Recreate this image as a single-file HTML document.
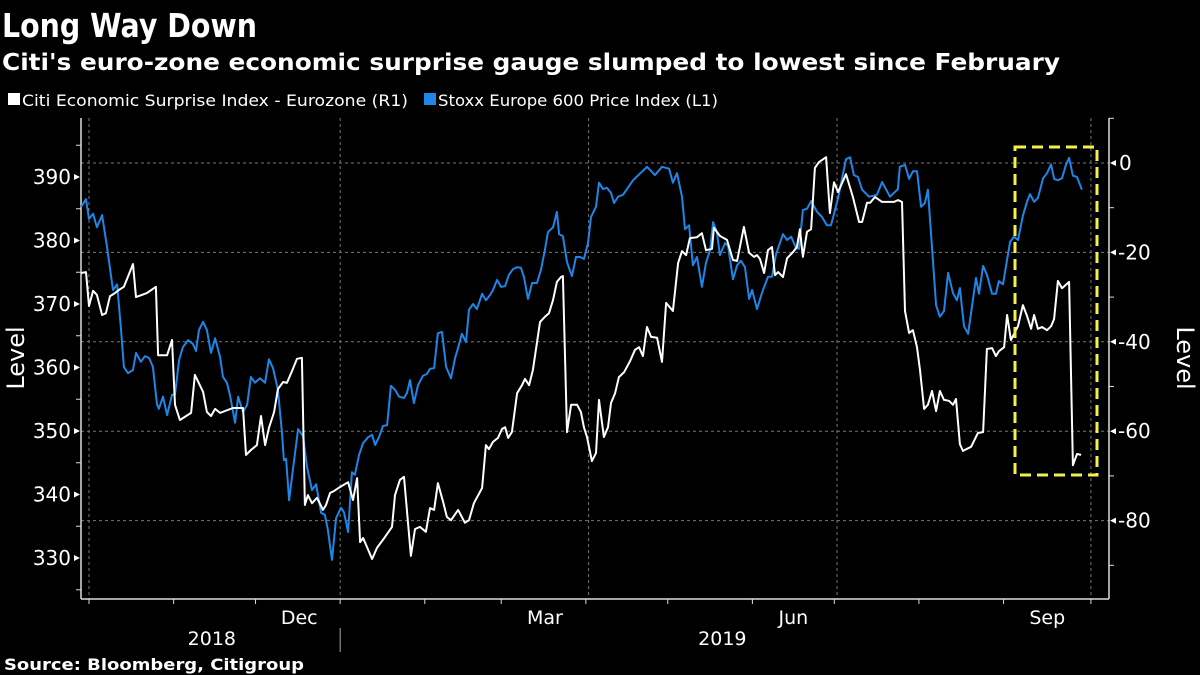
<!DOCTYPE html>
<html><head><meta charset="utf-8"><style>
html,body{margin:0;padding:0;background:#000;}
svg{display:block;}
text{font-family:"DejaVu Sans","Liberation Sans",sans-serif;fill:#fff;}
</style></head><body>
<svg id="chart" width="1200" height="675" viewBox="0 0 1200 675" xmlns="http://www.w3.org/2000/svg">
<rect width="1200" height="675" fill="#000"/>
<text x="2" y="37" font-size="33" font-weight="bold" textLength="255" lengthAdjust="spacingAndGlyphs">Long Way Down</text>
<text x="2" y="70" font-size="23" font-weight="bold" textLength="1058" lengthAdjust="spacingAndGlyphs">Citi's euro-zone economic surprise gauge slumped to lowest since February</text>
<g>
<g>
<rect x="8" y="93" width="12" height="12" fill="#fff"/>
<text x="22" y="106" font-size="16" textLength="386" lengthAdjust="spacingAndGlyphs">Citi Economic Surprise Index - Eurozone  (R1)</text>
</g>
<g>
<rect x="424" y="93" width="12" height="12" fill="#1e86e6"/>
<text x="438" y="106" font-size="16" textLength="280" lengthAdjust="spacingAndGlyphs">Stoxx Europe 600 Price Index (L1)</text>
</g>
</g>
<g id="grid"></g>
<g id="axes"></g>
<g id="series"></g>
<rect x="1015" y="147" width="82" height="328" fill="none" stroke="#f4f04a" stroke-width="3" stroke-dasharray="11 6"/>
<text x="4" y="670" font-size="16" font-weight="bold" textLength="300" lengthAdjust="spacingAndGlyphs">Source: Bloomberg, Citigroup</text>
</svg>
<script>
const NS="http://www.w3.org/2000/svg";
// ---- data ----
const stoxxDays=[-2.9,-1.1,0,1.5,2.9,4.8,6.6,8.8,10.3,11.7,12.8,14.3,16.1,17.2,19.0,20.5,22.0,23.4,24.9,25.6,27.1,28.6,30.4,31.5,33.0,34.4,36.3,38.1,39.2,40.3,41.8,43.2,44.7,46.2,48.0,49.1,50.5,51.6,53.5,54.6,56.4,57.9,59.3,60.8,62.6,64.5,65.9,67.4,69.2,70.7,71.4,72.2,73.3,74.7,76.6,78.4,79.9,81.7,83.2,85.0,86.4,87.5,89.0,90.5,92.3,93.4,94.9,96.3,97.4,98.9,100.4,102.2,103.7,104.8,106.2,107.7,109.2,110.6,112.1,113.6,115.4,116.5,117.6,119.0,120.5,122.3,123.8,124.9,126.4,127.8,129.3,130.8,132.6,134.1,135.2,136.6,138.1,139.2,140.7,142.1,144.0,145.4,146.9,148.0,149.5,150.9,152.4,153.8,155.3,156.8,158.2,159.3,160.8,162.3,164.1,165.6,167.0,168.1,170.0,171.4,172.2,173.6,175.1,176.9,178.4,179.9,181.3,182.8,183.9,185.7,186.8,188.3,189.7,191.2,192.3,193.8,195.6,199.3,204.4,207.3,209.9,212.5,213.9,215.4,217.2,218.3,219.8,221.2,222.7,224.5,226.0,227.5,228.6,230.0,231.1,233.0,234.1,235.9,237.4,238.8,240.3,241.8,242.9,244.7,246.5,248.7,250.2,251.7,254.2,255.7,257.2,259.0,260.1,261.5,263.0,264.5,266.7,268.5,270.3,271.8,274.4,277.3,278.8,280.2,281.7,283.2,285.7,288.6,290.5,293.4,296.3,297.0,298.9,300.4,301.8,303.3,304.8,306.2,307.3,310.3,311.7,313.2,314.7,316.5,317.9,319.0,320.5,322.0,323.4,324.9,326.0,327.5,328.9,330.8,332.2,333.3,334.8,337.4,338.8,340.3,342.1,343.6,344.7,346.2,347.6,349.5,350.9,352.4,353.5,354.9,356.4,357.9,359.0,360.4,361.9,363.7];
const stoxxValues=[385.3,386.5,383.4,384.2,382.1,384.0,379.0,372.2,373.1,366.2,360.1,359.1,359.6,362.3,360.9,361.8,361.5,360.1,354.2,353.5,355.4,352.5,355.7,355.7,361.2,363.2,364.3,363.7,362.6,365.9,367.2,365.9,362.3,364.6,361.7,358.5,357.6,355.7,351.3,355.4,353.0,354.1,358.5,357.6,358.3,357.6,361.3,359.9,356.5,349.7,345.4,345.6,339.1,343.9,350.3,349.2,344.3,340.7,341.6,337.1,336.8,334.4,329.7,336.3,337.9,337.2,334.1,343.5,343.1,346.2,348.1,349.0,349.4,347.8,349.0,350.8,350.9,357.1,356.5,355.4,355.2,356.0,358.0,354.4,357.2,358.7,359.0,359.8,359.9,365.4,365.6,360.1,358.3,361.5,363.1,365.3,364.0,369.1,370.0,369.2,371.6,370.6,371.4,372.2,373.8,372.7,372.8,374.6,375.5,375.8,375.7,374.3,370.8,373.3,373.3,375.5,378.5,381.3,382.1,384.5,381.0,380.7,376.6,374.4,377.4,377.4,377.1,379.6,383.7,385.3,389.1,388.1,388.3,387.5,385.9,386.9,387.2,389.5,391.6,390.3,391.6,391.3,389.1,390.6,386.9,381.8,382.4,376.1,377.4,372.7,376.5,378.5,382.9,381.3,377.7,379.6,379.1,373.9,376.1,376.8,375.8,370.8,372.2,369.2,371.7,374.3,374.3,377.9,381.0,380.1,380.6,378.8,378.7,384.8,385.0,386.2,384.5,383.7,382.4,382.4,386.7,392.8,393.1,390.3,390.0,388.0,386.9,387.2,389.2,386.9,388.1,391.6,391.9,389.7,390.9,390.9,385.3,385.9,388.0,369.8,368.0,368.9,374.9,371.7,370.6,372.5,366.5,365.3,369.5,374.1,371.6,376.0,374.6,371.6,371.6,373.6,373.1,379.8,380.6,380.1,383.9,386.1,387.3,386.1,386.7,389.8,390.6,392.0,389.7,389.5,389.8,392.0,393.0,390.2,390.0,388.0];
const citiDays=[-2.9,-1.1,0,1.5,2.9,4.8,6.2,7.7,9.5,11.0,12.8,16.1,17.2,21.2,24.5,25.3,28.6,30.4,31.5,33.3,37.4,38.8,41.8,43.2,44.7,46.2,48.0,52.7,56.4,57.5,59.3,61.5,63.0,64.5,65.9,67.8,69.2,71.1,72.5,74.4,76.2,78.0,79.1,80.2,81.7,83.5,85.7,86.8,88.3,89.7,91.9,94.9,96.7,98.2,99.3,100.4,103.7,105.5,108.4,111.0,112.1,113.9,115.4,117.9,119.4,121.2,123.4,124.9,126.4,127.8,129.7,131.1,132.6,135.2,137.7,139.2,141.0,144.0,145.4,146.5,148.0,149.8,151.3,152.4,153.5,154.9,156.8,158.6,159.7,161.2,162.6,165.2,167.0,168.5,170.0,171.4,172.9,173.6,175.1,176.6,178.8,180.2,181.3,182.4,184.2,185.7,186.8,188.6,190.1,191.2,192.7,194.1,196.0,198.2,200.0,201.5,202.9,204.4,205.9,208.1,209.9,211.4,213.9,215.8,217.2,218.7,220.1,222.7,224.5,226.0,228.2,228.9,231.1,233.7,235.9,237.4,239.9,241.8,243.6,244.7,245.8,247.3,248.7,250.2,251.3,252.4,254.2,255.7,257.9,259.3,260.4,261.5,263.0,264.5,265.9,267.4,270.0,271.4,272.9,274.4,277.3,279.8,282.1,283.2,285.0,286.1,287.9,290.5,294.9,296.3,297.8,298.9,300.4,301.8,303.3,304.4,305.9,307.3,308.8,310.3,311.7,313.2,315.0,316.5,317.6,319.0,320.1,323.1,325.6,327.5,328.9,330.8,332.2,333.3,335.2,336.3,337.7,340.3,342.1,343.6,345.1,346.2,347.6,349.1,350.9,352.4,353.5,354.9,356.4,359.0,360.4,361.9,363.4];
const citiValues=[-24.6,-24.4,-32.0,-28.6,-29.5,-34.0,-33.6,-29.8,-29.1,-28.4,-27.7,-22.6,-30.0,-29.1,-27.7,-43.0,-43.0,-39.6,-54.1,-57.5,-55.9,-47.4,-51.2,-55.7,-56.6,-55.0,-55.9,-54.8,-54.8,-65.3,-64.2,-63.1,-56.6,-63.1,-59.3,-55.7,-50.6,-49.0,-49.2,-46.5,-43.8,-43.6,-76.5,-74.3,-76.1,-74.9,-77.6,-76.5,-73.8,-73.4,-72.5,-71.4,-75.4,-70.5,-84.8,-83.9,-88.6,-86.1,-83.7,-81.4,-74.3,-70.9,-70.2,-87.9,-81.9,-81.4,-82.5,-77.2,-77.6,-71.6,-75.8,-79.2,-79.9,-77.6,-80.5,-79.9,-76.1,-72.7,-63.1,-64.0,-62.4,-61.5,-59.5,-59.1,-61.5,-60.2,-51.5,-49.7,-48.3,-49.7,-46.3,-35.6,-34.4,-33.6,-30.6,-26.6,-25.5,-25.3,-60.2,-54.1,-54.1,-55.7,-59.1,-61.3,-66.7,-64.9,-53.0,-61.3,-59.1,-53.7,-51.5,-47.9,-46.8,-44.3,-41.8,-41.2,-43.2,-36.7,-38.9,-39.1,-44.5,-31.3,-33.1,-22.4,-19.7,-20.6,-16.8,-16.6,-15.7,-19.5,-19.2,-14.5,-16.3,-17.2,-21.7,-21.9,-14.3,-20.1,-21.0,-20.6,-21.5,-24.6,-19.5,-18.8,-25.1,-24.4,-25.5,-21.3,-19.9,-18.8,-14.8,-21.0,-15.4,-14.8,-1.1,0.2,1.3,-11.2,-4.3,-6.5,-2.5,-7.6,-13.2,-13.2,-8.9,-8.9,-7.6,-8.7,-8.7,-8.3,-8.7,-33.1,-38.0,-37.4,-41.2,-46.3,-55.0,-54.1,-51.0,-55.5,-51.0,-53.0,-53.2,-54.1,-52.8,-62.9,-64.4,-63.5,-60.4,-60.2,-41.6,-41.4,-43.2,-42.1,-41.2,-34.0,-39.6,-36.5,-31.8,-34.2,-37.1,-34.0,-37.1,-36.7,-37.4,-36.5,-34.9,-26.4,-28.0,-26.6,-67.6,-65.1,-65.3];
const leftTicks=[330,340,350,360,370,380,390];
const leftMinor=[325,335,345,355,365,375,385,395];
const rightTicks=[0,-20,-40,-60,-80];
const rightMinor=[10,-10,-30,-50,-70,-90];
const monthTicks=[0,31,61,92,123,151,182,212,243,273,304,335,367];
const quarterLines=[0,92,183,274,367];
const monthLabels=["Dec","Mar","Jun","Sep"];
const monthLabelDays=[77,167,258,351];
const yearLabels=["2018","2019"];
const yearLabelDays=[45,232];
// ---- scales ----
const X0=81,X1=1109,YB=599,YT=118;
const xS=d=>89+d*2.73;
const yL=v=>177+(390-v)*6.35;
const yR=v=>163-v*4.47;
function mk(tag,attrs,parent){const e=document.createElementNS(NS,tag);for(const k in attrs)e.setAttribute(k,attrs[k]);parent.appendChild(e);return e;}
const grid=document.getElementById('grid'),axes=document.getElementById('axes'),series=document.getElementById('series');
rightTicks.forEach(v=>{const l=mk('line',{x1:X0,x2:X1,y1:yR(v),y2:yR(v),stroke:'#777','stroke-width':1,'stroke-dasharray':'3 3'},grid);

});
quarterLines.forEach(d=>{const l=mk('line',{x1:xS(d),x2:xS(d),y1:YT,y2:YB,stroke:'#777','stroke-width':1,'stroke-dasharray':'3 3'},grid);

});
// axes lines
let a=mk('line',{x1:X0,x2:X0,y1:YT,y2:YB,stroke:'#ddd','stroke-width':1.5},axes);


a=mk('line',{x1:X1,x2:X1,y1:YT,y2:YB,stroke:'#ddd','stroke-width':1.5},axes);


a=mk('line',{x1:X0,x2:X1,y1:YB,y2:YB,stroke:'#ddd','stroke-width':1.5},axes);


leftTicks.forEach(v=>{const y=yL(v);
const p=mk('path',{d:`M${X0-1},${y} l-6,-3 v6 z`,fill:'#fff'},axes);


const t=mk('text',{x:X0-10,y:y+7,'font-size':20,'text-anchor':'end','font-family':'Liberation Sans, sans-serif'},axes);t.textContent=v;

});
leftMinor.forEach(v=>{const l=mk('line',{x1:X0-5,x2:X0,y1:yL(v),y2:yL(v),stroke:'#ddd'},axes);

});
rightTicks.forEach(v=>{const y=yR(v);
const p=mk('path',{d:`M${X1+1},${y} l6,-3 v6 z`,fill:'#fff'},axes);


const t=mk('text',{x:X1+(v<0?9:10),y:y+7,'font-size':20,'font-family':'Liberation Sans, sans-serif'},axes);t.textContent=v<0?'-'+Math.abs(v):v;

});
rightMinor.forEach(v=>{const y=yR(v);if(y<YT||y>YB)return;const l=mk('line',{x1:X1,x2:X1+5,y1:y,y2:y,stroke:'#ddd'},axes);

});
monthTicks.forEach(d=>{const l=mk('line',{x1:xS(d),x2:xS(d),y1:YB,y2:YB+5,stroke:'#ddd'},axes);

});
monthLabels.forEach((m,i)=>{const t=mk('text',{x:xS(monthLabelDays[i]),y:624,'font-size':19,'text-anchor':'middle','font-family':'Liberation Sans, sans-serif'},axes);t.textContent=m;

});
yearLabels.forEach((m,i)=>{const t=mk('text',{x:xS(yearLabelDays[i]),y:645,'font-size':19,'text-anchor':'middle','font-family':'Liberation Sans, sans-serif'},axes);t.textContent=m;

});
a=mk('line',{x1:xS(92),x2:xS(92),y1:628,y2:652,stroke:'#aaa'},axes);


let t=mk('text',{x:0,y:0,'font-size':24,'text-anchor':'middle','font-family':'Liberation Sans, sans-serif',transform:'translate(24,358) rotate(-90)'},axes);t.textContent='Level';


t=mk('text',{x:0,y:0,'font-size':24,'text-anchor':'middle','font-family':'Liberation Sans, sans-serif',transform:'translate(1177,358) rotate(90)'},axes);t.textContent='Level';


// series
const sp=mk('polyline',{points:stoxxDays.map((d,i)=>xS(d).toFixed(1)+','+yL(stoxxValues[i]).toFixed(1)).join(' '),fill:'none',stroke:'#1e86e6','stroke-width':2,'stroke-linejoin':'round'},series);


const cp=mk('polyline',{points:citiDays.map((d,i)=>xS(d).toFixed(1)+','+yR(citiValues[i]).toFixed(1)).join(' '),fill:'none',stroke:'#fff','stroke-width':2,'stroke-linejoin':'round'},series);


</script>
</body></html>
